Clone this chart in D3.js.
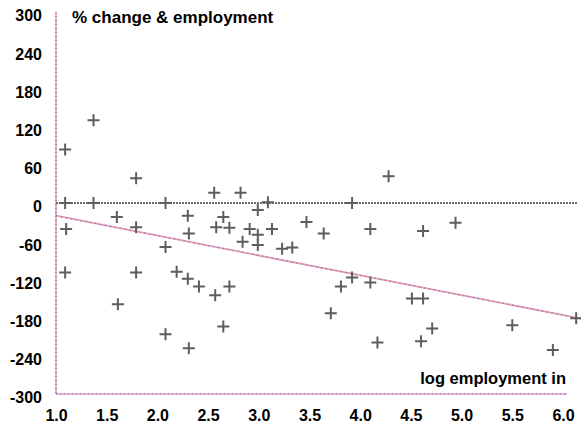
<!DOCTYPE html>
<html>
<head>
<meta charset="utf-8">
<script src="https://cdn.jsdelivr.net/npm/d3@7"></script>
<style>
  body { margin: 0; background: #fff; }
  text { font-family: "Liberation Sans", Arial, sans-serif; font-weight: bold; fill: #000; }
</style>
</head>
<body>
<svg id="chart" width="581" height="442"></svg>
<script>
// Log employment (x) and % change in employment (y) for each observation
const logEmployment = [
  1.09, 1.37, 1.09, 1.37, 1.79, 2.08, 1.60, 1.10, 1.79, 1.09,
  1.79, 1.61, 2.08, 2.19, 2.30, 2.41, 2.57, 2.71, 2.08, 2.31,
  2.65, 2.56, 2.82, 2.30, 2.31, 2.99, 3.09, 2.58, 2.71, 2.65,
  3.13, 3.47, 2.91, 2.99, 2.99, 2.84, 3.23, 3.33, 4.28, 3.92,
  3.64, 4.10, 4.62, 3.92, 3.81, 4.10, 3.71, 4.51, 4.62, 4.71,
  4.17, 4.60, 4.94, 5.50, 5.90, 6.13
];
const pctChange = [
    84,  130,    0,    0,   39,    0,  -22,  -41,  -38, -109,
  -109, -159,  -69, -108, -119, -131, -145, -131, -206, -228,
  -194,   16,   16,  -20,  -48,  -11,    1,  -38,  -39,  -22,
   -41,  -30,  -41,  -50,  -66,  -61,  -72,  -70,   42,    0,
   -48,  -41,  -44, -117, -131, -125, -173, -150, -150, -197,
  -219, -217,  -31, -192, -231, -181
];

// Fitted trend: pctChange = intercept + slope * logEmployment
const trendIntercept = 11.2;
const trendSlope = -31.2;
const trendRange = [1.0, 6.3];

const xTicks = [1.0, 1.5, 2.0, 2.5, 3.0, 3.5, 4.0, 4.5, 5.0, 5.5, 6.0];
const yTicks = [300, 240, 180, 120, 60, 0, -60, -120, -180, -240, -300];

const chartTitle = "% change & employment";
const xAxisTitle = "log employment in";

const svg = d3.select("#chart");

const x = d3.scaleLinear().domain([1.0, 6.0]).range([56, 563]);
const y = d3.scaleLinear().domain([-300, 300]).range([394, 12]);

function styleTicks(sel) {
  sel.selectAll("text")
    .style("font-size", "16px")
    .style("font-family", "'Liberation Sans', Arial, sans-serif")
    .style("font-weight", "bold")
    .attr("fill", "#000");
}

// Tick labels (plain hyphen for negatives)
const yAxis = svg.append("g")
  .attr("transform", `translate(${x(1.0)},0)`)
  .call(d3.axisLeft(y).tickValues(yTicks).tickSize(0).tickPadding(14)
    .tickFormat(d => String(d)));
yAxis.select(".domain").remove();
yAxis.selectAll("text").attr("dy", "0.55em");
styleTicks(yAxis);

const xAxis = svg.append("g")
  .attr("transform", `translate(0,${y(-300)})`)
  .call(d3.axisBottom(x).tickValues(xTicks).tickSize(0).tickPadding(16)
    .tickFormat(d => d.toFixed(1)));
xAxis.select(".domain").remove();
styleTicks(xAxis);

// Axis lines: pink with a fine blue dotted overlay
function pinkRule(x1, y1, x2, y2) {
  svg.append("line").attr("x1", x1).attr("y1", y1).attr("x2", x2).attr("y2", y2)
    .attr("stroke", "#e49ab0").attr("stroke-width", 1.6);
  svg.append("line").attr("x1", x1).attr("y1", y1).attr("x2", x2).attr("y2", y2)
    .attr("stroke", "#7468c8").attr("stroke-width", 1.2).attr("stroke-dasharray", "1,3");
}
pinkRule(x(1.0), y(300), x(1.0), y(-300));
pinkRule(x(1.0), y(-300), x(6.0) + 4, y(-300));

// Zero reference line
svg.append("line")
  .attr("x1", x(1.0)).attr("x2", x(6.14))
  .attr("y1", y(0)).attr("y2", y(0))
  .attr("stroke", "#6a6a6a").attr("stroke-width", 2.2).attr("stroke-dasharray", "2,1");

// Trend line
const trendLine = d3.line().x(d => x(d)).y(d => y(trendIntercept + trendSlope * d));
svg.append("path")
  .attr("d", trendLine(trendRange))
  .attr("fill", "none").attr("stroke", "#e49ab0").attr("stroke-width", 1.8);
svg.append("path")
  .attr("d", trendLine(trendRange))
  .attr("fill", "none").attr("stroke", "#7468c8").attr("stroke-width", 1.2)
  .attr("stroke-dasharray", "1,4");

// Observations as plus markers
const pts = logEmployment.map((v, i) => ({ lx: v, pc: pctChange[i] }));
const arm = 6;
const marks = svg.append("g").attr("stroke", "#5e5e5e").attr("stroke-width", 2);
marks.selectAll("path.pt").data(pts).join("path")
  .attr("class", "pt")
  .attr("d", d => {
    const cx = x(d.lx), cy = y(d.pc);
    return `M${cx - arm},${cy}H${cx + arm}M${cx},${cy - arm}V${cy + arm}`;
  })
  .attr("fill", "none");

// Titles
svg.append("text")
  .attr("x", 72).attr("y", 23)
  .style("font-size", "17px")
  .text(chartTitle);
svg.append("text")
  .attr("x", 566).attr("y", 384)
  .attr("text-anchor", "end")
  .style("font-size", "16.5px")
  .text(xAxisTitle);
</script>
</body>
</html>
